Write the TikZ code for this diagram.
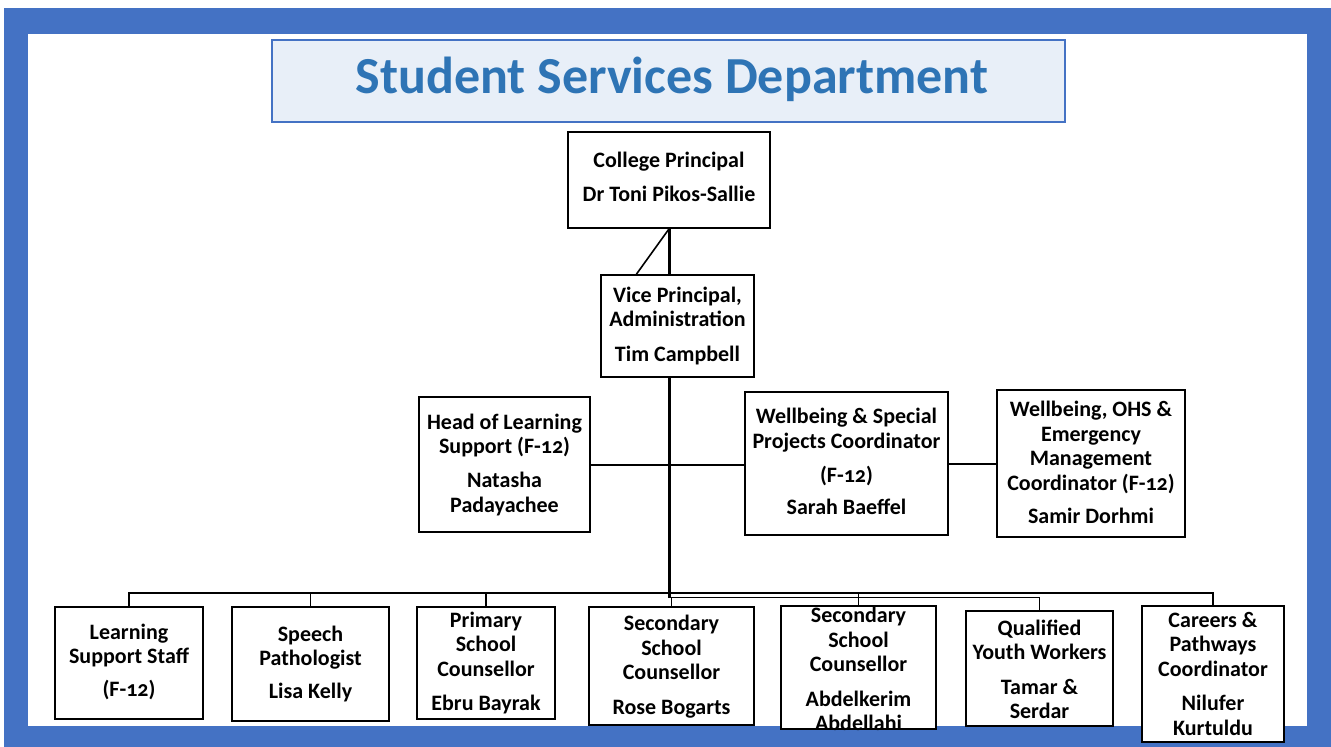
\documentclass[tikz,border=0pt]{standalone}
\usepackage{fontspec}
\setmainfont{Carlito}[Numbers=OldStyle]
\usetikzlibrary{calc}
\definecolor{frameblue}{HTML}{4472C4}
\definecolor{titlefill}{HTML}{E8EFF8}
\definecolor{titletext}{HTML}{2E74B5}
\begin{document}
\begin{tikzpicture}[x=1pt,y=-1pt,
  box/.style={draw=black,fill=white,line width=1.8pt,inner sep=0pt},
  lbl/.style={align=center,inner sep=0pt,font=\bfseries\fontsize{22}{24.5}\selectfont},
  conn/.style={draw=black,line width=1.6pt},
  midconn/.style={draw=black,line width=2pt},
  spine/.style={draw=black,line width=3pt}]
\useasboundingbox (0,0) rectangle (1331,747);
% page frame
\fill[white] (0,0) rectangle (1331,747);
\fill[frameblue] (4,8) rectangle (1331,747);
\fill[white] (28,34) rectangle (1307,726);
% heading
\node[draw=frameblue,fill=titlefill,line width=2.5pt,minimum width=793pt,minimum height=82pt,inner sep=0pt]
  (title) at (668.5,81) {};
\node[font=\bfseries\fontsize{52}{58}\selectfont,text=titletext,inner sep=0pt] (titletxt) at (672,79) {Student Services Department};
% boxes
\node[box,minimum width=202pt,minimum height=96pt] (cp) at (669,180) {};
\node[box,minimum width=153pt,minimum height=102pt] (vp) at (677.5,326) {};
\node[box,minimum width=171pt,minimum height=135pt] (hl) at (504.5,464.5) {};
\node[box,minimum width=203pt,minimum height=143pt] (ws) at (846.5,463.5) {};
\node[box,minimum width=188pt,minimum height=147pt] (wo) at (1091,463.5) {};
\node[box,minimum width=148pt,minimum height=112pt] (b1) at (129,663) {};
\node[box,minimum width=157pt,minimum height=114pt] (b2) at (310.5,664) {};
\node[box,minimum width=138pt,minimum height=112pt] (b3) at (486,663) {};
\node[box,minimum width=165pt,minimum height=118pt] (b4) at (671.5,666) {};
\node[box,minimum width=155pt,minimum height=123pt] (b5) at (858.5,667.5) {};
\node[box,minimum width=147pt,minimum height=115pt] (b6) at (1039.5,668.5) {};
\node[box,minimum width=142pt,minimum height=136pt] (b7) at (1213,674) {};
% box texts
\node[lbl] (cpt) at (669,177) {College Principal\\[9.5pt]Dr Toni Pikos-Sallie};
\node[lbl] (vpt) at (677.5,326) {Vice Principal,\\Administration\\[10pt]Tim Campbell};
\node[lbl] (hlt) at (504.5,465) {Head of Learning\\Support (F-12)\\[9.5pt]Natasha\\Padayachee};
\node[lbl] (wst) at (846.5,461.5) {Wellbeing \& Special\\Projects Coordinator\\[9.5pt](F-12)\\[7.5pt]Sarah Baeffel};
\node[lbl] (wot) at (1091,462.5) {Wellbeing, OHS \&\\Emergency\\Management\\Coordinator (F-12)\\[8.5pt]Samir Dorhmi};
\node[lbl] (b1t) at (129,662) {Learning\\Support Staff\\[8.5pt](F-12)};
\node[lbl] (b2t) at (310.5,664) {Speech\\Pathologist\\[8.5pt]Lisa Kelly};
\node[lbl] (b3t) at (486,663) {Primary\\School\\Counsellor\\[10pt]Ebru Bayrak};
\node[lbl] (b4t) at (671.5,666.5) {Secondary\\School\\Counsellor\\[10pt]Rose Bogarts};
\node[lbl] (b5t) at (858.5,669) {Secondary\\School\\Counsellor\\[10pt]Abdelkerim\\Abdellahi};
\node[lbl] (b6t) at (1039.5,669.5) {Qualified\\Youth Workers\\[10pt]Tamar \&\\Serdar};
\node[lbl] (b7t) at (1213,673.5) {Careers \&\\Pathways\\Coordinator\\[10pt]Nilufer\\Kurtuldu};
% bus lines
\coordinate (busA) at (0,593);
\coordinate (busB) at (0,597.5);
% spine from the principal down through the vice principal
\draw[spine] (cp.south) -- (vp.north -| cp.south);
\draw[spine] (vp.south -| cp.south) -- (cp.south |- busB);
\draw[conn] (cp.south) -- ($(vp.north west)!0.235!(vp.north east)$);
% middle row
\draw[midconn] (hl.east) -- (hl.east -| ws.west);
\draw[midconn] (ws.east) -- (ws.east -| wo.west);
% lower row
\draw[conn] (b1.north) -- (b1.north |- busA) -- (b7.north |- busA) -- (b7.north);
\foreach \b in {b2,b3,b5}
  \draw[conn] (\b.north) -- (\b.north |- busA);
\draw[conn] (cp.south |- busB) -- (b6.north |- busB) -- (b6.north);
\draw[conn] (b4.north) -- (b4.north |- busB);
\end{tikzpicture}
\end{document}
